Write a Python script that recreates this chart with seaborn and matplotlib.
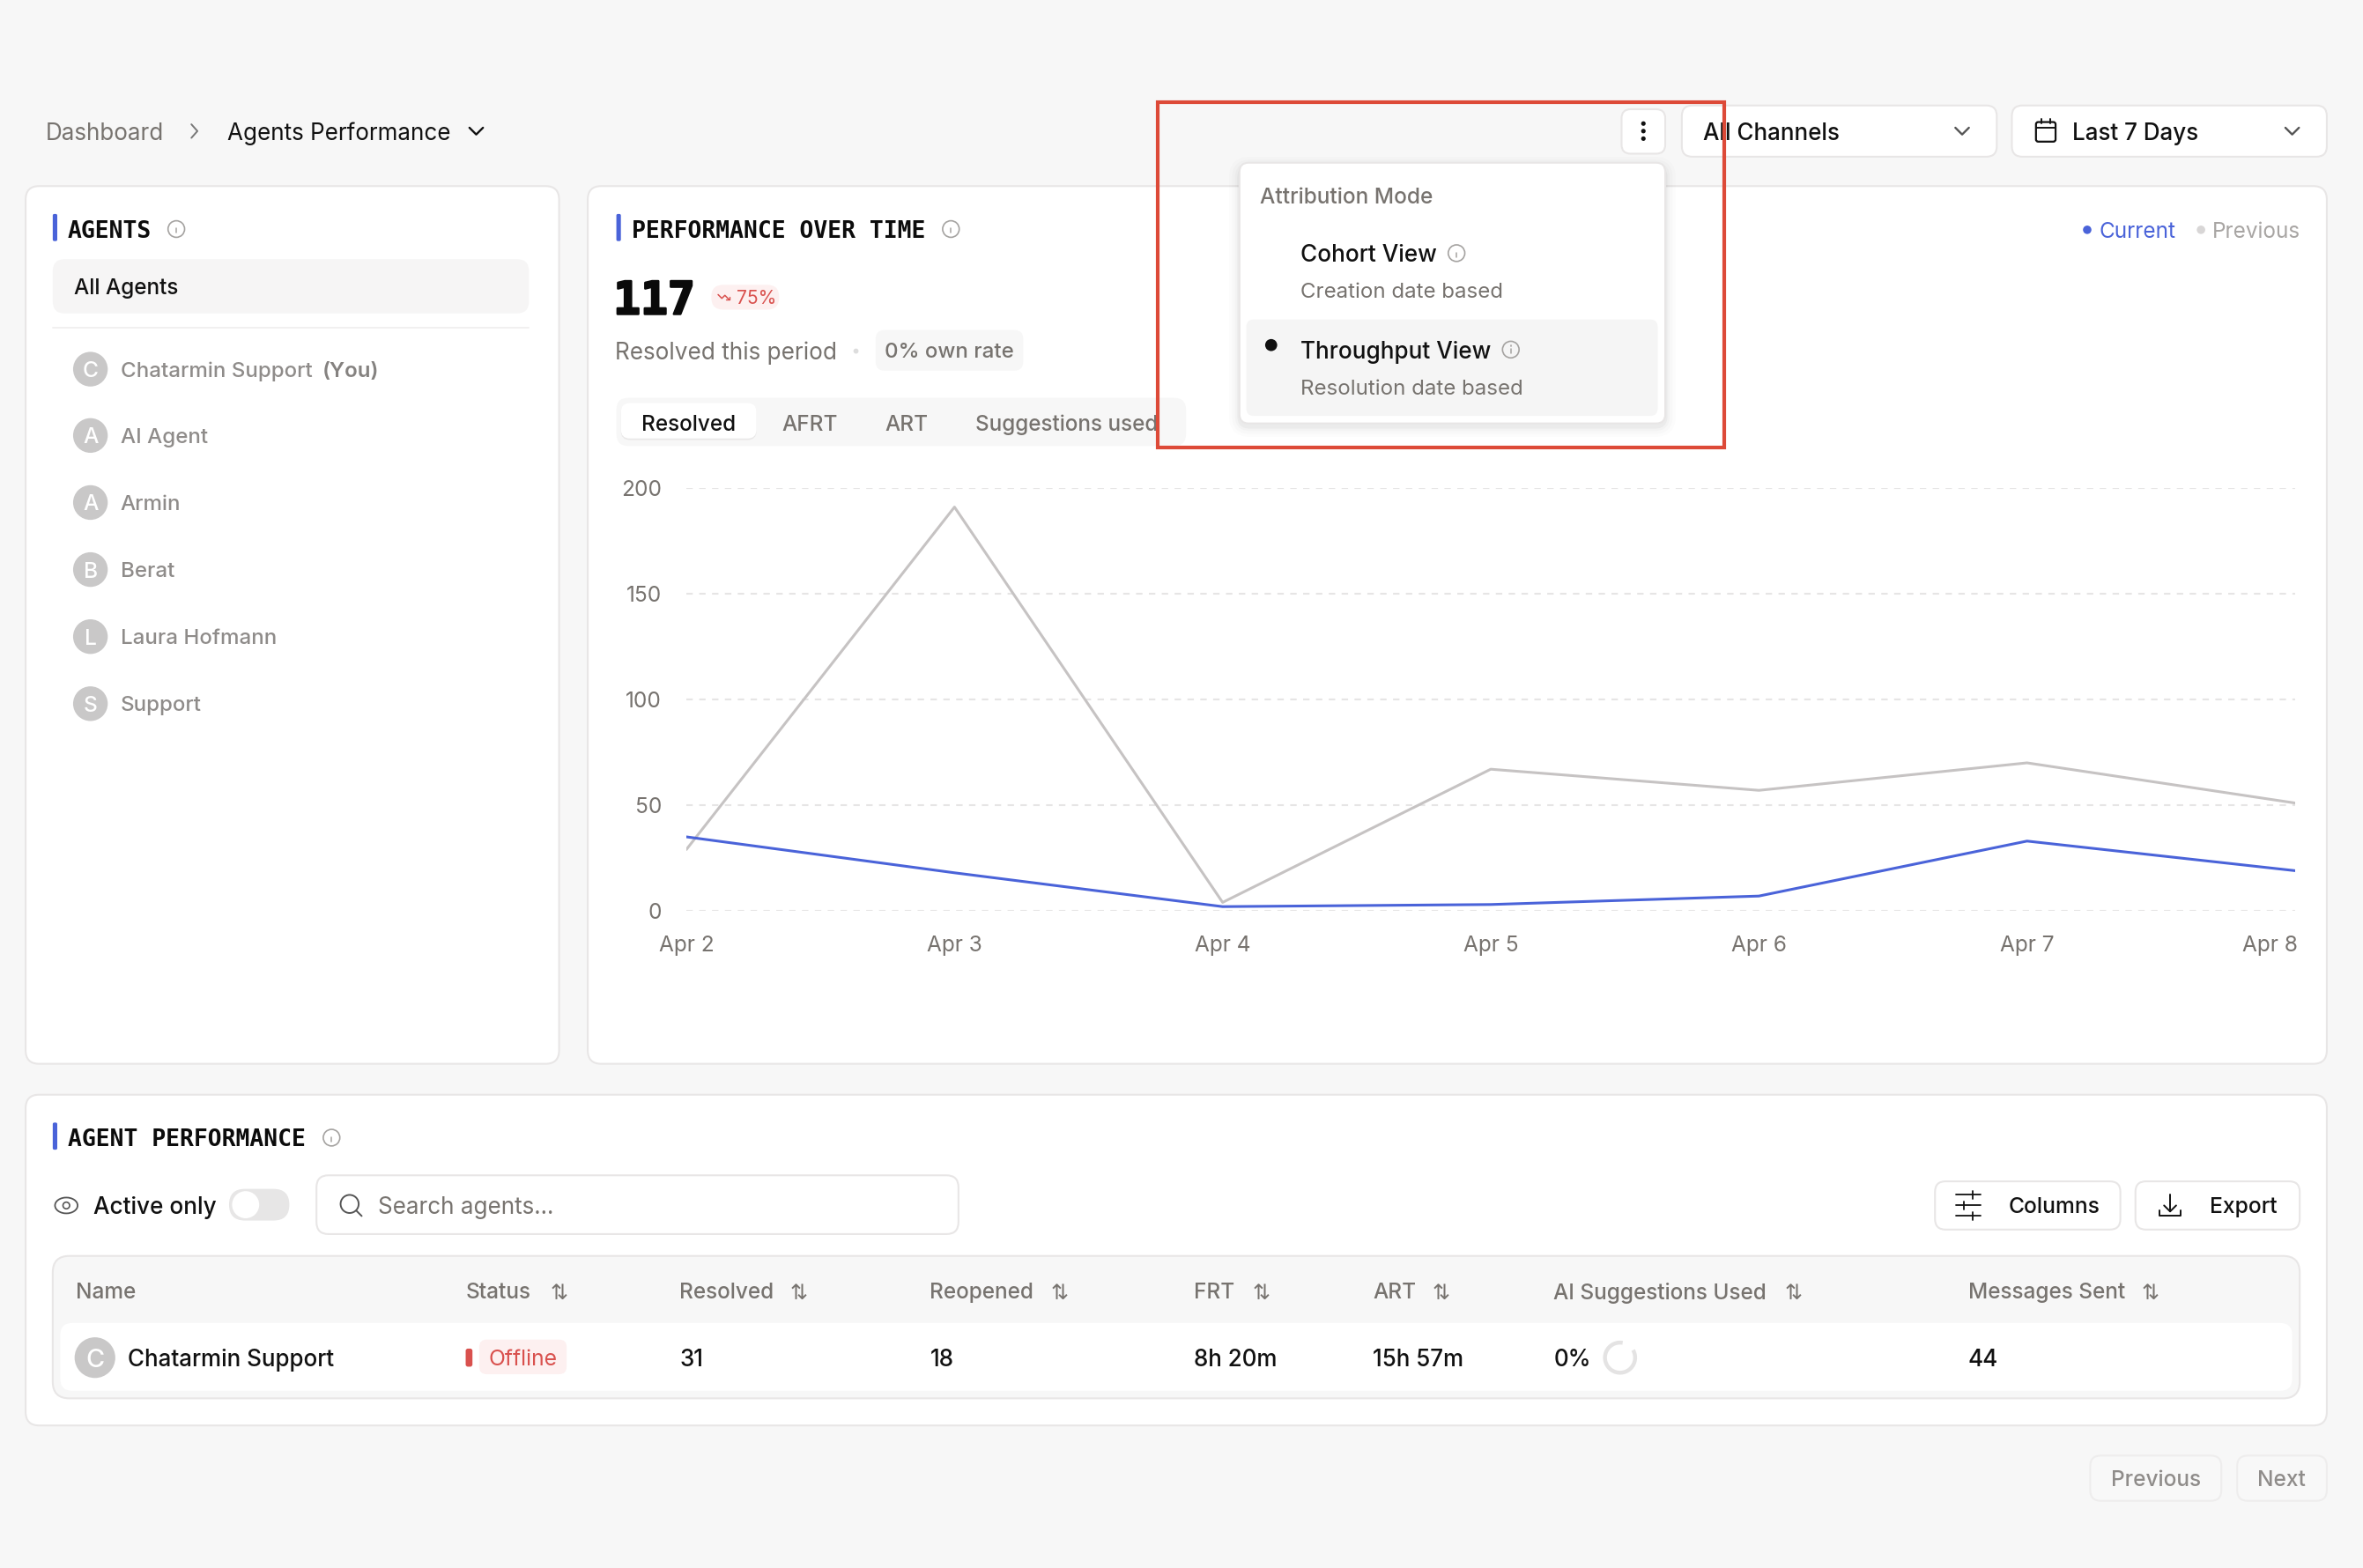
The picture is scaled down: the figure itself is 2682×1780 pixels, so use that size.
import matplotlib
matplotlib.use("Agg")
import matplotlib.pyplot as plt
import matplotlib.patheffects as pe
import seaborn as sns
import pandas as pd
from matplotlib.patches import FancyBboxPatch, Circle, Arc
from matplotlib.transforms import ScaledTranslation

# --- data ---
dates = ['Apr 2', 'Apr 3', 'Apr 4', 'Apr 5', 'Apr 6', 'Apr 7', 'Apr 8']
current = [35, 18, 2, 3, 7, 33, 19]
previous = [29, 191, 4, 67, 57, 70, 51]
y_ticks = [0, 50, 100, 150, 200]

agents = ['Chatarmin Support', 'AI Agent', 'Armin', 'Berat', 'Laura Hofmann', 'Support']
tabs = ['Resolved', 'AFRT', 'ART', 'Suggestions used']
columns = ['Name', 'Status', 'Resolved', 'Reopened', 'FRT', 'ART', 'AI Suggestions Used', 'Messages Sent']
row_values = ['Chatarmin Support', 'Offline', '31', '18', '8h 20m', '15h 57m', '0%', '44']

BLUE = '#4a63d9'
GREY_LINE = '#c6c3c3'
BG = '#f7f7f7'
BORDER = '#e8e6e6'
DARK = '#111111'
MID = '#77736f'
LIGHT = '#8f8c8a'
RED = '#d9514e'
PINK = '#fdf0f0'

sns.set_theme(style="white")
plt.rcParams['font.family'] = ['Inter', 'DejaVu Sans']

fig = plt.figure(figsize=(26.82, 17.80), dpi=100, facecolor=BG)

# page layer, coordinates follow the 1568 wide layout
ui = fig.add_axes([0, 0, 1, 1], zorder=0)
ui.set_xlim(0, 1568)
ui.set_ylim(1040.6, 0)
ui.axis('off')

PT = 1.2316  # layout px to points


def box(x0, y0, x1, y1, r=6, fc='white', ec='none', lw=1.5, z=1, alpha=None):
    ui.add_patch(FancyBboxPatch((x0, y0), x1 - x0, y1 - y0, boxstyle=f"round,pad=0,rounding_size={r}",
                                fc=fc, ec=ec, lw=lw, zorder=z, alpha=alpha))


def txt(x, y, s, size=15, color=DARK, ha='left', weight='normal', z=5, **kw):
    return ui.text(x, y, s, fontsize=size * PT, color=color, ha=ha, va='center_baseline', fontweight=weight, zorder=z, **kw)


def line(xs, ys, color=DARK, lw=1.5, z=5):
    ui.plot(xs, ys, color=color, lw=lw, zorder=z, solid_capstyle='round', solid_joinstyle='round')


def info(x, y, r=5.5, z=5):
    ui.add_patch(Circle((x, y), r, fc='none', ec='#a5a3a1', lw=1.2, zorder=z))
    line([x, x], [y - 0.3, y + 2.6], '#a5a3a1', 1.1, z)
    line([x, x], [y - 2.6, y - 2.5], '#a5a3a1', 1.2, z)


def chevron(x, y, color='#555555', w=4.5, h=4.5):
    line([x - w, x, x + w], [y - h / 2, y + h / 2, y - h / 2], color, 1.7)


def heading(x, y, s):
    box(x, y - 9, x + 3, y + 9, r=1, fc=BLUE, z=3)
    txt(x + 10, y + 0.8, s, size=15.45, weight='bold', family='DejaVu Sans Mono', color='#0c0c0c')


def avatar(cx, cy, r, letter):
    ui.add_patch(Circle((cx, cy), r, fc='#c9c8c8', ec='none', zorder=3))
    txt(cx, cy, letter, size=r * 1.25, color='white', ha='center', weight='medium')


# --- top bar ---
txt(30, 87, 'Dashboard', size=15.2, color=MID)
line([127, 131, 127], [82.5, 87, 91.5], '#777777', 1.4)
txt(151, 87, 'Agents Performance', size=15.2)
chevron(316, 87, DARK)

box(1076, 72.5, 1105, 102, r=6, ec=BORDER)
for dy in (-5, 0, 5):
    ui.add_patch(Circle((1090.5, 87 + dy), 1.5, fc=DARK, ec='none', zorder=5))
box(1116, 70, 1325, 104, r=7, ec=BORDER)
txt(1130, 87, 'All Channels', size=15.2, weight='medium')
chevron(1302, 87)
box(1335, 70, 1544, 104, r=7, ec=BORDER)
box(1351, 81, 1364, 94, r=1.5, fc='none', ec=DARK, lw=1.6, z=5)
line([1351, 1364], [85, 85], DARK, 1.4)
line([1354.5, 1354.5], [79, 82], DARK, 1.4)
line([1360.5, 1360.5], [79, 82], DARK, 1.4)
txt(1375, 87, 'Last 7 Days', size=15.2, weight='medium')
chevron(1521, 87)

# --- cards ---
box(17, 123.5, 371, 706, r=9, ec=BORDER)
box(390, 123.5, 1544, 706, r=9, ec=BORDER)
box(17, 726.5, 1544, 946, r=9, ec=BORDER)

# agents card
heading(35, 151, 'AGENTS')
info(117, 152)
box(35, 172, 351, 208, r=8, fc='#f6f5f5')
txt(49, 190, 'All Agents', size=14.2, weight='medium')
line([35, 351], [217.5, 217.5], '#f1f0f0', 1.4)
agent_y = [245, 289, 333.5, 378, 422.5, 467]
for name, yy in zip(agents, agent_y):
    avatar(60, yy, 11.5, name[0])
    txt(80, yy, name, size=14.1, color=LIGHT, weight='medium')
txt(214, 245, '(You)', size=14.1, color='#858280', weight='semibold')

# performance card
heading(409, 151, 'PERFORMANCE OVER TIME')
info(631, 152)
big = txt(407, 197, '117', size=30, weight='bold', family='DejaVu Sans Mono', color='#0a0a0a')
big.set_path_effects([pe.withStroke(linewidth=1.8, foreground='#0a0a0a')])
box(472, 189, 517, 205.5, r=8, fc=PINK)
line([476.5, 479, 481, 484], [195.5, 198, 196, 199], RED, 1.1)
line([482, 484, 484], [199, 199, 197], RED, 1.0)
txt(489, 197, '75%', size=12.3, color=RED)
txt(408, 232.5, 'Resolved this period', size=15.3, color=MID)
ui.add_patch(Circle((568, 233), 1.7, fc='#dddddd', ec='none', zorder=4))
box(581, 219, 679, 246, r=6, fc='#f7f7f7')
txt(587, 232.5, '0% own rate', size=14.1, color=MID, weight='medium')

box(409, 264, 787, 296, r=8, fc='#f7f7f7', z=2)
box(412, 268, 502, 292, r=6, fc='#e9e8e8', z=2)
box(412, 267.5, 502, 291, r=6, fc='white', z=3)
tab_x = [457, 537.5, 601.5, 708]
for i, (name, xx) in enumerate(zip(tabs, tab_x)):
    txt(xx, 280.5, name, size=14.2, color=DARK if i == 0 else MID, ha='center', weight='medium')

ui.add_patch(Circle((1385, 152.5), 2.8, fc=BLUE, ec='none', zorder=4))
txt(1393, 152.5, 'Current', size=14.2, color=BLUE)
ui.add_patch(Circle((1460.5, 152.5), 2.8, fc='#d8d6d6', ec='none', zorder=4))
txt(1468, 152.5, 'Previous', size=14.2, color='#a8a5a3')

# attribution popover
for grow, a in ((7, 0.012), (5, 0.015), (3, 0.02), (1.5, 0.03)):
    box(822.5 - grow, 108 - grow + 3, 1105 + grow, 281 + grow + 2, r=7 + grow, fc='black', z=6, alpha=a)
box(822.5, 108, 1105, 281, r=6, ec=BORDER, z=7)
txt(836, 130, 'Attribution Mode', size=14.3, color=MID, z=9, weight='medium')
txt(863, 168, 'Cohort View', size=15.3, z=9, weight='medium')
info(966.5, 168, z=9)
txt(863, 192.5, 'Creation date based', size=14.1, color=MID, z=9)
box(827, 212, 1100, 276, r=5, fc='#f5f5f5', z=8)
ui.add_patch(Circle((843.5, 229), 4, fc=DARK, ec='none', zorder=9))
txt(863, 232, 'Throughput View', size=15.3, z=9, weight='medium')
info(1002.5, 232, z=9)
txt(863, 257, 'Resolution date based', size=14.1, color=MID, z=9)

# red highlight box
ui.add_patch(plt.Rectangle((768, 68), 376, 229, fc='none', ec='#dd4a38', lw=3, zorder=12))

# --- agent performance card ---
heading(35, 754, 'AGENT PERFORMANCE')
info(220, 755)
ui.add_patch(Arc((44, 800), 15, 10.5, fc='none', ec='#555555', lw=1.3, zorder=5))
ui.add_patch(Circle((44, 800), 2.2, fc='none', ec='#555555', lw=1.2, zorder=5))
txt(62, 800, 'Active only', size=15.3, weight='medium')
box(152, 789, 192, 810, r=10.5, fc='#e7e6e6')
ui.add_patch(Circle((163, 799.5), 9, fc='white', ec='none', zorder=4))
box(210, 780, 636, 819, r=8, ec=BORDER)
ui.add_patch(Circle((232, 799), 6, fc='none', ec='#555555', lw=1.4, zorder=5))
line([236.5, 240], [803.5, 807], '#555555', 1.4)
txt(251, 800, 'Search agents...', size=15.2, color=MID)

box(1284, 784, 1407, 816, r=7, ec=BORDER)
for yy, knob in ((793, 1309), (800, 1303), (807, 1309)):
    line([1298, 1314], [yy, yy], DARK, 1.3)
    line([knob, knob], [yy - 2.5, yy + 2.5], DARK, 1.3)
txt(1333, 800, 'Columns', size=14.4, weight='medium')
box(1417, 784, 1526, 816, r=7, ec=BORDER)
line([1440, 1440], [793, 804], DARK, 1.4)
line([1436, 1440, 1444], [800, 804, 800], DARK, 1.4)
line([1433, 1433, 1447, 1447], [803, 807, 807, 803], DARK, 1.4)
txt(1466, 800, 'Export', size=14.4, weight='medium')

box(35, 833.5, 1526, 928, r=11, fc='#f7f7f7', ec=BORDER)
box(40, 878, 1521, 923, r=8, fc='white', z=2)
col_x = [50, 309, 451, 617, 792, 911, 1031, 1306]
sort_x = [None, 371, 530, 703, 837, 956.5, 1190, 1427]
for name, xx, sx in zip(columns, col_x, sort_x):
    txt(xx, 856.5, name, size=14.25, color=MID, weight='medium')
    if sx is not None:
        txt(sx, 856.5, '⇅', size=14, color=MID, ha='center', family='DejaVu Sans')

avatar(63, 901, 13.5, 'C')
txt(85, 901, row_values[0], size=15.2, weight='medium')
box(309, 895, 313.5, 907, r=1.5, fc=RED, z=4)
box(318, 889, 376, 912, r=5, fc=PINK, z=3)
txt(324, 901, row_values[1], size=14.4, color=RED)
for val, xx in zip(row_values[2:], col_x[2:]):
    txt(xx, 901, val, size=15.2, weight='medium')
ui.add_patch(Arc((1075, 901), 20, 20, theta1=-30, theta2=280, ec='#e4e3e3', lw=3.2, zorder=5))

# pager
box(1387, 966, 1474, 996, r=7, fc='#f8f8f8', ec='#eeeded')
txt(1430.5, 981, 'Previous', size=14.3, color=LIGHT, ha='center', weight='medium')
box(1484.5, 966, 1544, 996, r=7, fc='#f8f8f8', ec='#eeeded')
txt(1514, 981, 'Next', size=14.3, color=LIGHT, ha='center', weight='medium')

# --- line chart ---
df = pd.DataFrame({
    'date': dates * 2,
    'resolved': previous + current,
    'period': ['Previous'] * len(dates) + ['Current'] * len(dates),
})

ax = fig.add_axes([779 / 2682, 1 - 1034 / 1780, (2605 - 779) / 2682, (1034 - 554) / 1780], zorder=1)
ax.patch.set_alpha(0)
sns.lineplot(data=df, x='date', y='resolved', hue='period', hue_order=['Previous', 'Current'],
             palette={'Previous': GREY_LINE, 'Current': BLUE}, linewidth=2.2, sort=False,
             errorbar=None, legend=False, ax=ax)
ax.set_xlim(0, 6)
ax.set_ylim(0, 200)
ax.set_yticks(y_ticks)
ax.set_xlabel('')
ax.set_ylabel('')
sns.despine(ax=ax, left=True, bottom=True, top=True, right=True)
ax.grid(axis='y', color='#e6e5e5', lw=1.5, linestyle=(0, (3.5, 3.5)))
ax.set_axisbelow(True)
ax.tick_params(axis='x', length=0, pad=20, labelsize=17.6, labelcolor=MID)
ax.tick_params(axis='y', length=0, pad=20, labelsize=17.6, labelcolor=MID)
last = ax.get_xticklabels()[-1]
last.set_ha('right')
last.set_transform(last.get_transform() + ScaledTranslation(3.4 / 100, 0, fig.dpi_scale_trans))

plt.savefig('out.png', dpi=100, facecolor=BG)
print("out.png saved")
